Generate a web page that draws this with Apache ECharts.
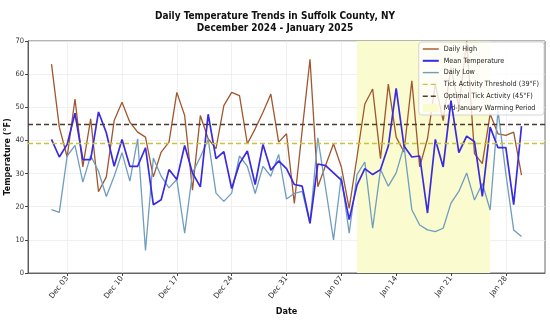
<!DOCTYPE html>
<html><head><meta charset="utf-8">
<script src="https://cdn.jsdelivr.net/npm/echarts@6/dist/echarts.min.js"></script>
<style>html,body{margin:0;padding:0;background:#fff}#c{width:550px;height:320px}</style>
</head><body><div id="c"></div>
<script>
// ---- data ----
const START_DATE = '2024-12-01';
const DAILY_HIGH = [63, 44, 35, 52.5, 32, 46.5, 24.5, 29, 46, 51.5, 45.5, 42.5, 41, 29, 36.5, 39.5, 54.5, 47.5, 25, 47.5,
  40.5, 37.5, 50.5, 54.5, 53.5, 39, 43.5, 48.5, 54, 39.5, 42, 21, 43, 64.5, 26, 32.5, 39, 32, 19.5, 35,
  51, 55.5, 34.5, 57, 41, 36.5, 58, 32, 40.5, 57, 46, 62, 50, 70, 36, 33, 48, 42, 41.5, 42.5, 29.5];
const MEAN_TEMP = [40.3, 35, 38.8, 48.2, 34.2, 34.2, 48.6, 42.3, 32.2, 40.3, 32.2, 32.2, 37.8, 20.6, 22.1, 31.2, 28.2, 38.5, 30.2, 26,
  47.9, 34.5, 36.6, 25.5, 33, 36.8, 26.7, 38.8, 31, 33.8, 31.5, 26.7, 26.2, 15, 32.9, 32.4, 30.2, 28, 16.1, 26.5,
  31.5, 29.7, 31.2, 38.3, 55.7, 38.3, 35, 35.3, 18.1, 40.3, 32, 52, 36.3, 41.3, 39.6, 23.1, 44, 37.8, 37.8, 20.6, 44.3];
const DAILY_LOW = [19.1, 18.3, 35.3, 38.5, 27.4, 35.4, 30.7, 23.1, 29.2, 36.3, 27.7, 40.5, 6.8, 34.7, 29.2, 25.7, 28.2, 12, 30.2, 35,
  40.3, 24.1, 21.6, 24.1, 35.3, 32.2, 24, 32.2, 29.2, 35.8, 22.3, 24, 24.6, 15, 40.8, 25.5, 10, 29.2, 12, 29.7,
  33.5, 13.5, 31.2, 26.2, 30.2, 38.3, 19.1, 14.5, 13, 12.5, 13.5, 21.1, 24.6, 30.2, 22, 27, 19, 49, 30, 13, 11];
const TICK_DATES = ['2024-12-03', '2024-12-10', '2024-12-17', '2024-12-24', '2024-12-31', '2025-01-07', '2025-01-14', '2025-01-21', '2025-01-28'];
const X_RANGE = ['2024-11-28', '2025-02-02'];
const Y_RANGE = [0, 70];
const Y_STEP = 10;
const THRESHOLD_TEMP = 39;
const OPTIMAL_TEMP = 45;
const WARM_PERIOD = ['2025-01-09', '2025-01-26'];
const MONTHS = ['Jan','Feb','Mar','Apr','May','Jun','Jul','Aug','Sep','Oct','Nov','Dec'];

// ---- helpers: x positions are day offsets from START_DATE ----
const DAY = 86400000;
function utc(s){ const p = s.split('-').map(Number); return Date.UTC(p[0], p[1]-1, p[2]); }
const T0 = utc(START_DATE);
function off(s){ return Math.round((utc(s) - T0) / DAY); }
function pair(arr){ return arr.map((v,i)=>[i, v]); }
function fmt(v){ const d = new Date(T0 + Math.round(v) * DAY); const dd = d.getUTCDate(); return MONTHS[d.getUTCMonth()] + ' ' + (dd<10?'0':'') + dd; }

const COND = "'DejaVu Sans Condensed', 'DejaVu Sans', sans-serif";
const C_HIGH = '#a0562f', C_MEAN = '#3a2be0', C_LOW = '#6f9dbf', C_THR = '#c9c23a', C_OPT = '#4d3b30', C_WARM = '#fbfbd0';
const TICK_OFFS = TICK_DATES.map(off);
// legend glyphs (bounding points keep a 16x8 box)
const ICON_SOLID = 'path://M0,0L0,0M16,8L16,8M0,3.3L16,3.3L16,4.7L0,4.7Z';
const ICON_THICK = 'path://M0,0L0,0M16,8L16,8M0,3L16,3L16,5L0,5Z';
const ICON_DASH = 'path://M0,0L0,0M16,8L16,8M0,3.3L5,3.3L5,4.7L0,4.7ZM8,3.3L13,3.3L13,4.7L8,4.7Z';

const chart = echarts.init(document.getElementById('c'), null, {renderer:'canvas'});
chart.setOption({
  animation: false,
  backgroundColor: '#fff',
  title: {
    text: 'Daily Temperature Trends in Suffolk County, NY\nDecember 2024 - January 2025',
    left: 'center', top: 5,
    textStyle: { fontFamily: COND, fontWeight: 'bold', fontSize: 10, lineHeight: 12, color: '#111' }
  },
  grid: { left: 28, right: 5, top: 41, bottom: 47, show: true, borderColor: '#444', borderWidth: 0.8,
    containLabel: false, outerBoundsMode: 'none' },
  legend: {
    orient: 'vertical', right: 6, top: 42,
    backgroundColor: 'rgba(255,255,255,0.8)', borderColor: '#cccccc', borderWidth: 0.8, borderRadius: 3,
    padding: [3, 5, 3, 4], itemGap: 3.8, itemWidth: 16, itemHeight: 8,
    textStyle: { fontFamily: COND, fontSize: 7.2, color: '#222' },
    data: [
      {name: 'Daily High', icon: ICON_SOLID}, {name: 'Mean Temperature', icon: ICON_THICK}, {name: 'Daily Low', icon: ICON_SOLID},
      {name: 'Tick Activity Threshold (39°F)', icon: ICON_DASH}, {name: 'Optimal Tick Activity (45°F)', icon: ICON_DASH},
      {name: 'Mid-January Warming Period', icon: 'rect', itemStyle: {color: C_WARM, opacity: 1}}
    ]
  },
  xAxis: {
    type: 'value', min: off(X_RANGE[0]), max: off(X_RANGE[1]),
    name: 'Date', nameLocation: 'middle', nameGap: 34,
    nameTextStyle: { fontFamily: COND, fontWeight: 'bold', fontSize: 9, color: '#111' },
    axisLine: { show: true, onZero: false, lineStyle: { color: '#444', width: 0.8 } },
    axisTick: { show: true, length: 3, lineStyle: { color: '#444' }, customValues: TICK_OFFS },
    axisLabel: { rotate: 52, fontFamily: 'DejaVu Sans', fontSize: 7.5, color: '#333', margin: 4,
      customValues: TICK_OFFS, formatter: fmt },
    splitLine: { show: true, lineStyle: { color: '#ececec', width: 0.8 } }
  },
  yAxis: {
    type: 'value', min: Y_RANGE[0], max: Y_RANGE[1], interval: Y_STEP,
    name: 'Temperature (°F)', nameLocation: 'middle', nameGap: 16, nameMoveOverlap: false,
    nameTextStyle: { fontFamily: 'DejaVu Sans', fontWeight: 'bold', fontSize: 8, color: '#111' },
    axisLine: { show: true, onZero: false, lineStyle: { color: '#444', width: 0.8 } },
    axisTick: { show: true, length: 3, lineStyle: { color: '#444' } },
    axisLabel: { fontFamily: COND, fontSize: 7.5, color: '#333', margin: 4 },
    splitLine: { show: true, lineStyle: { color: '#ececec', width: 0.8 } }
  },
  series: [
    { name: 'Mid-January Warming Period', type: 'line', data: [], itemStyle: {color: C_WARM},
      markArea: { silent: true, itemStyle: { color: C_WARM }, data: [[{xAxis: off(WARM_PERIOD[0])}, {xAxis: off(WARM_PERIOD[1])}]] }, z: 1 },
    { name: 'Daily High', type: 'line', data: pair(DAILY_HIGH), showSymbol: false, symbol: 'none',
      lineStyle: { color: C_HIGH, width: 1.3 }, itemStyle: { color: C_HIGH }, z: 3 },
    { name: 'Mean Temperature', type: 'line', data: pair(MEAN_TEMP), showSymbol: false, symbol: 'none',
      lineStyle: { color: C_MEAN, width: 1.7 }, itemStyle: { color: C_MEAN }, z: 4 },
    { name: 'Daily Low', type: 'line', data: pair(DAILY_LOW), showSymbol: false, symbol: 'none',
      lineStyle: { color: C_LOW, width: 1.3 }, itemStyle: { color: C_LOW }, z: 3 },
    { name: 'Tick Activity Threshold (39°F)', type: 'line', data: [], symbol: 'none',
      lineStyle: { color: C_THR, width: 1.3, type: [5, 3] }, itemStyle: { color: C_THR },
      markLine: { silent: true, symbol: ['none','none'], label: {show: false},
        lineStyle: { color: C_THR, width: 1.3, type: [5, 3] }, data: [{yAxis: THRESHOLD_TEMP}] }, z: 2 },
    { name: 'Optimal Tick Activity (45°F)', type: 'line', data: [], symbol: 'none',
      lineStyle: { color: C_OPT, width: 1.3, type: [5, 3] }, itemStyle: { color: C_OPT },
      markLine: { silent: true, symbol: ['none','none'], label: {show: false},
        lineStyle: { color: C_OPT, width: 1.3, type: [5, 3] }, data: [{yAxis: OPTIMAL_TEMP}] }, z: 2 }
  ]
});
</script></body></html>
